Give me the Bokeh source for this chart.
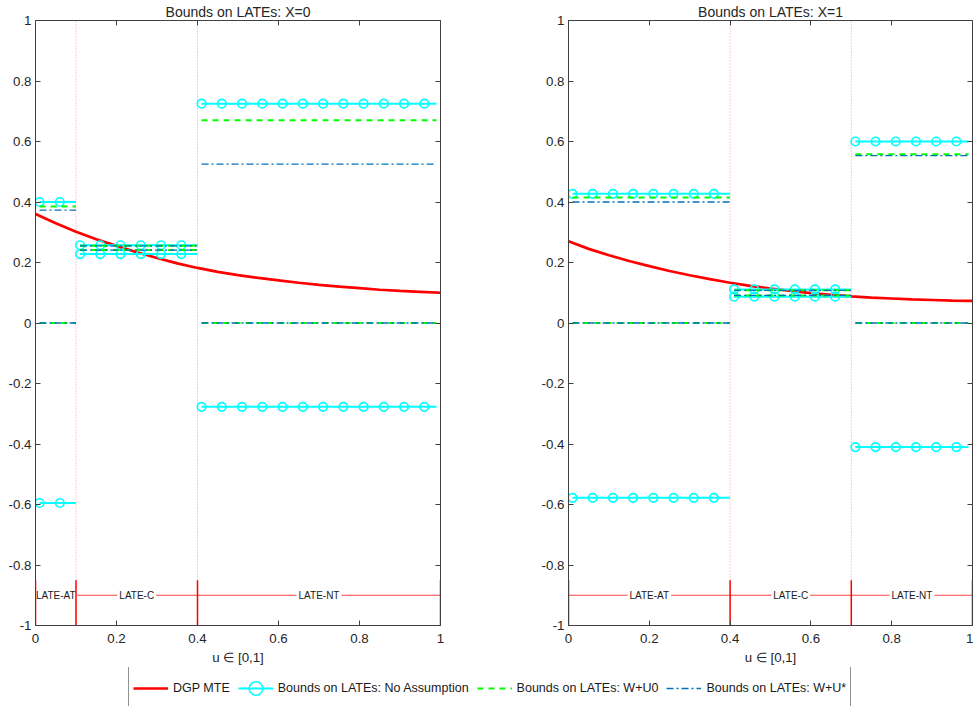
import numpy as np
from bokeh.plotting import figure
from bokeh.models import FixedTicker, LinearAxis, Legend, LegendItem, Range1d
from bokeh.layouts import column, row
from bokeh.embed import file_html
from bokeh.resources import INLINE
from bokeh.core.properties import value

FONT = "Liberation Sans"

# ---------------- data ----------------
u_mte = [0.00, 0.05, 0.10, 0.15, 0.20, 0.25, 0.30, 0.35, 0.40, 0.45, 0.50,
         0.55, 0.60, 0.65, 0.70, 0.75, 0.80, 0.85, 0.90, 0.95, 1.00]
mte_x0 = [0.360, 0.330, 0.302, 0.277, 0.255, 0.234, 0.215, 0.197, 0.182, 0.169, 0.158,
          0.149, 0.141, 0.133, 0.126, 0.120, 0.115, 0.110, 0.106, 0.103, 0.100]
mte_x1 = [0.270, 0.245, 0.224, 0.205, 0.188, 0.172, 0.158, 0.145, 0.133, 0.123, 0.114,
          0.106, 0.099, 0.093, 0.088, 0.084, 0.081, 0.078, 0.076, 0.074, 0.073]

seg_labels = ["LATE-AT", "LATE-C", "LATE-NT"]
cuts_x0 = [0.0, 0.1, 0.4, 1.0]
cuts_x1 = [0.0, 0.4, 0.7, 1.0]
grid_lo_x0 = [0.01, 0.11, 0.41]
grid_hi_x0 = [0.10, 0.40, 0.99]
grid_lo_x1 = [0.01, 0.41, 0.71]
grid_hi_x1 = [0.40, 0.70, 0.99]
MARK_STEP = 0.05

# Bounds, X=0 (AT, C, NT)
na_up_x0 = [0.400, 0.257, 0.725]
na_lo_x0 = [-0.595, 0.228, -0.277]
u0_up_x0 = [0.385, 0.255, 0.670]
u0_lo_x0 = [0.000, 0.241, 0.000]
us_up_x0 = [0.373, 0.255, 0.525]
us_lo_x0 = [0.000, 0.241, 0.000]

# Bounds, X=1 (AT, C, NT)
na_up_x1 = [0.427, 0.111, 0.600]
na_lo_x1 = [-0.578, 0.087, -0.410]
u0_up_x1 = [0.415, 0.108, 0.558]
u0_lo_x1 = [0.000, 0.091, 0.000]
us_up_x1 = [0.400, 0.108, 0.553]
us_lo_x1 = [0.000, 0.091, 0.000]

x_ticks = [0, 0.2, 0.4, 0.6, 0.8, 1]
x_tick_labels = ["0", "0.2", "0.4", "0.6", "0.8", "1"]
y_ticks = [-1, -0.8, -0.6, -0.4, -0.2, 0, 0.2, 0.4, 0.6, 0.8, 1]
y_tick_labels = ["-1", "-0.8", "-0.6", "-0.4", "-0.2", "0", "0.2", "0.4", "0.6", "0.8", "1"]

legend_labels = ["DGP MTE", "Bounds on LATEs: No Assumption",
                 "Bounds on LATEs: W+U0", "Bounds on LATEs: W+U*"]

RED = "#FF0000"
CYAN = "#00FFFF"
GREEN = "#00FF00"
BLUE = "#0072BD"
AXC = "#404040"
DASH = "6 5"
DASHDOT = "7 3 2 3"

H = 667


def style_axis(ax, ticks, labels, show_labels=True):
    ax.ticker = FixedTicker(ticks=ticks)
    ax.major_tick_in = 5
    ax.major_tick_out = 0
    ax.minor_tick_line_color = None
    ax.axis_line_color = AXC
    ax.major_tick_line_color = AXC
    ax.major_label_text_font = FONT
    ax.major_label_text_color = "#262626"
    if show_labels:
        ax.major_label_overrides = dict(zip(ticks, labels))
        ax.major_label_text_font_size = "13.3px"
        ax.major_label_standoff = 4
    else:
        ax.major_label_overrides = {t: "" for t in ticks}
        ax.major_label_text_font_size = "1px"
        ax.major_label_standoff = 0


def bound_lines(lo, hi, up, dn):
    xs = [[a, b] for a, b in zip(lo, hi)] * 2
    ys = [[v, v] for v in up] + [[v, v] for v in dn]
    return xs, ys


def panel(title, cuts, lo, hi, mte, na_up, na_lo, u0_up, u0_lo, us_up, us_lo,
          width, mbl, mbr):
    p = figure(width=width, height=H, x_range=Range1d(0, 1), y_range=Range1d(-1, 1),
               toolbar_location=None, output_backend="svg",
               min_border_left=mbl, min_border_right=mbr, min_border_top=0,
               min_border_bottom=0, outline_line_color=None)
    p.grid.visible = False
    p.title.text = title
    p.title.align = "center"
    p.title.text_font = FONT
    p.title.text_font_size = "14px"
    p.title.text_font_style = "normal"
    p.title.text_color = "#262626"
    p.title.standoff = 2

    style_axis(p.xaxis[0], x_ticks, x_tick_labels)
    style_axis(p.yaxis[0], y_ticks, y_tick_labels)
    p.xaxis.axis_label = "u \u2208 [0,1]"
    p.xaxis.axis_label_text_font = FONT
    p.xaxis.axis_label_text_font_size = "13.3px"
    p.xaxis.axis_label_text_font_style = "normal"
    p.xaxis.axis_label_text_color = "#262626"
    p.xaxis.axis_label_standoff = 4
    p.xaxis.major_label_standoff = 8
    top = LinearAxis()
    style_axis(top, x_ticks, x_tick_labels, show_labels=False)
    p.add_layout(top, "above")
    right = LinearAxis()
    style_axis(right, y_ticks, y_tick_labels, show_labels=False)
    p.add_layout(right, "right")

    inner = cuts[1:-1]
    p.segment(x0=inner, y0=-1, x1=inner, y1=1, line_color=RED, line_alpha=0.4,
              line_width=1, line_dash="1 2")

    # DGP MTE
    p.line(u_mte, mte, line_color=RED, line_width=2.7)

    # No assumption bounds
    xs, ys = bound_lines(lo, hi, na_up, na_lo)
    p.multi_line(xs, ys, line_color=CYAN, line_width=2)
    mx, my = [], []
    for a, b, vu, vd in zip(lo, hi, na_up, na_lo):
        m = np.arange(a, b + 1e-9, MARK_STEP)
        mx += list(m) * 2
        my += [vu] * len(m) + [vd] * len(m)
    p.scatter(mx, my, marker="circle", size=8.5, fill_color=None,
              line_color=CYAN, line_width=1.7)

    # W+U0
    xs, ys = bound_lines(lo, hi, u0_up, u0_lo)
    p.multi_line(xs, ys, line_color=GREEN, line_width=2, line_dash=DASH)

    # W+U*
    xs, ys = bound_lines(lo, hi, us_up, us_lo)
    p.multi_line(xs, ys, line_color=BLUE, line_width=1.3, line_dash=DASHDOT)

    # bottom LATE annotation
    p.segment(x0=cuts[0], y0=-0.9, x1=cuts[-1], y1=-0.9, line_color=RED,
              line_alpha=0.75, line_width=1)
    centers = [(a + b) / 2 for a, b in zip(cuts[:-1], cuts[1:])]
    p.text(x=centers, y=[-0.9] * len(centers), text=seg_labels,
           text_font=value(FONT), text_font_size="10px", text_color="#1a1a1a",
           text_align="center", text_baseline="middle",
           background_fill_color="white", padding=2)
    p.segment(x0=cuts, y0=-1, x1=cuts, y1=-0.85, line_color=RED, line_width=1.5)
    return p


p1 = panel("Bounds on LATEs: X=0", cuts_x0, grid_lo_x0, grid_hi_x0, mte_x0,
           na_up_x0, na_lo_x0, u0_up_x0, u0_lo_x0, us_up_x0, us_lo_x0,
           width=530, mbl=35, mbr=90)
p2 = panel("Bounds on LATEs: X=1", cuts_x1, grid_lo_x1, grid_hi_x1, mte_x1,
           na_up_x1, na_lo_x1, u0_up_x1, u0_lo_x1, us_up_x1, us_lo_x1,
           width=443, mbl=38, mbr=1)

# legend strip
nan = [np.nan]
pl = figure(width=973, height=39, x_range=Range1d(0, 1), y_range=Range1d(0, 1),
            x_axis_type=None, y_axis_type=None, toolbar_location=None,
            output_backend="svg", min_border=0, outline_line_color=None)
pl.grid.visible = False
r1 = pl.line(nan, nan, line_color=RED, line_width=2.7)
r2 = pl.line(nan, nan, line_color=CYAN, line_width=2)
r2m = pl.scatter(nan, nan, marker="circle", size=8, fill_color=None, line_color=CYAN,
                 line_width=1.6)
r3 = pl.line(nan, nan, line_color=GREEN, line_width=2, line_dash=DASH)
r4 = pl.line(nan, nan, line_color=BLUE, line_width=1.3, line_dash=DASHDOT)
items = [LegendItem(label=legend_labels[0], renderers=[r1]),
         LegendItem(label=legend_labels[1], renderers=[r2, r2m]),
         LegendItem(label=legend_labels[2], renderers=[r3]),
         LegendItem(label=legend_labels[3], renderers=[r4])]
leg = Legend(items=items, orientation="horizontal", location=(128, -4),
             glyph_width=35, glyph_height=34, label_height=34, label_standoff=5,
             spacing=8, padding=4, margin=0, border_line_color="#262626",
             border_line_width=1, label_text_font=FONT,
             label_text_font_size="12.5px", label_text_color="#1a1a1a",
             background_fill_color="white", background_fill_alpha=1)
pl.add_layout(leg)

layout = column(row(p1, p2), pl)
open("out.html", "w").write(file_html(layout, INLINE))
